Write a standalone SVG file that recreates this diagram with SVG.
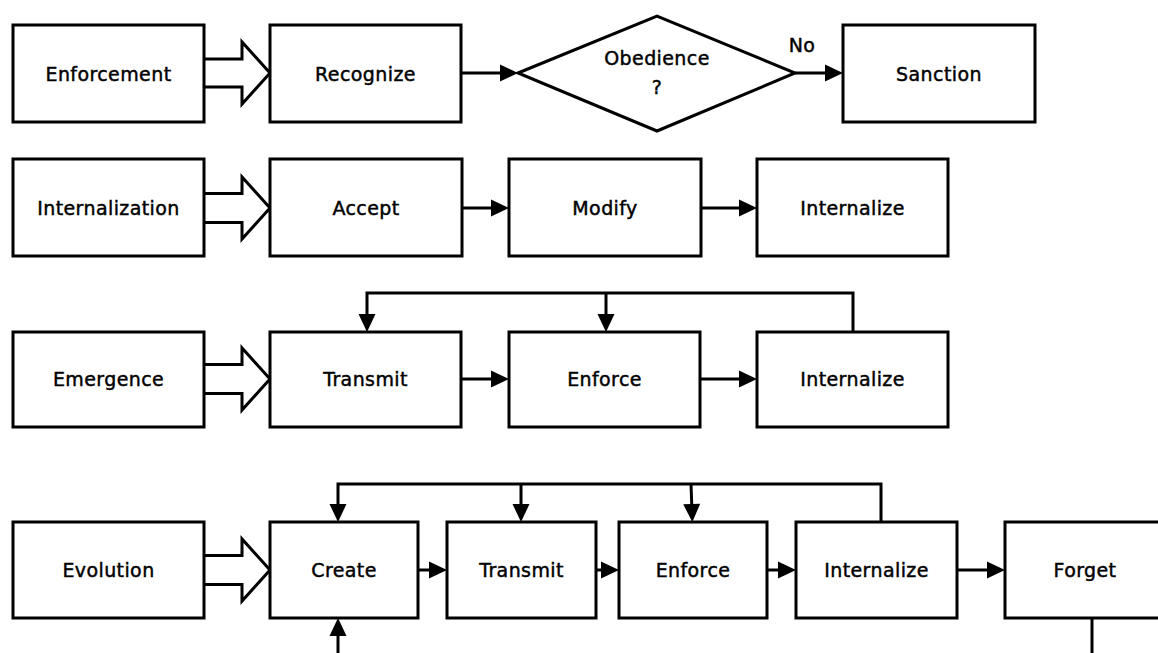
<svg xmlns="http://www.w3.org/2000/svg" width="1158" height="653" viewBox="0 0 1158 653">
  <style>
    .box { fill: #ffffff; stroke: #000000; stroke-width: 3; }
    .lbl { font-family: "DejaVu Sans", "Liberation Sans", sans-serif; font-size: 19px; letter-spacing: 0.4px; fill: #000000; stroke: #000000; stroke-width: 0.45; text-anchor: middle; }
    .wire { fill: none; stroke: #000000; stroke-width: 3; }
    .hollow { fill: #ffffff; stroke: #000000; stroke-width: 3; stroke-linejoin: miter; }
  </style>
  <defs>
    <marker id="head" markerUnits="userSpaceOnUse" markerWidth="18" markerHeight="18" refX="8" refY="8.5" orient="auto" overflow="visible">
      <path d="M0,0 L18,8.5 L0,17 Z" fill="#000000"/>
    </marker>
  </defs>
  <rect width="1158" height="653" fill="#ffffff"/>

  <!-- Connectors -->
  <g id="connectors">
    <!-- wide hollow arrows from row heads -->
    <path class="hollow" d="M204,59 H242 V42 L270,73 L242,104 V87 H204"/>
    <path class="hollow" d="M204,193.5 H242 V177 L270,208 L242,239 V222.5 H204"/>
    <path class="hollow" d="M204,364.5 H242 V348 L270,379 L242,410 V393.5 H204"/>
    <path class="hollow" d="M204,555.5 H242 V539 L270,570 L242,601 V584.5 H204"/>

    <!-- row 1 -->
    <path class="wire" d="M461,73 H508" marker-end="url(#head)"/>
    <path class="wire" d="M795,73 H833" marker-end="url(#head)"/>

    <!-- row 2 -->
    <path class="wire" d="M462,208 H499" marker-end="url(#head)"/>
    <path class="wire" d="M701,208 H747" marker-end="url(#head)"/>

    <!-- row 3 -->
    <path class="wire" d="M461,379 H499" marker-end="url(#head)"/>
    <path class="wire" d="M700,379 H747" marker-end="url(#head)"/>
    <path class="wire" d="M853,332 V293 H367 V322" marker-end="url(#head)"/>
    <path class="wire" d="M606,293 V322" marker-end="url(#head)"/>

    <!-- row 4 -->
    <path class="wire" d="M418,570 H437" marker-end="url(#head)"/>
    <path class="wire" d="M596,570 H609" marker-end="url(#head)"/>
    <path class="wire" d="M767,570 H786" marker-end="url(#head)"/>
    <path class="wire" d="M957,570 H995" marker-end="url(#head)"/>
    <path class="wire" d="M881,522 V484 H338 V512" marker-end="url(#head)"/>
    <path class="wire" d="M521,484 V512" marker-end="url(#head)"/>
    <path class="wire" d="M691,484 L692,512" marker-end="url(#head)"/>
    <path class="wire" d="M338,660 V628" marker-end="url(#head)"/>
    <path class="wire" d="M1092,618 V660"/>
  </g>

  <!-- Row 1: Enforcement -->
  <g id="enforcement"><rect class="box" x="13" y="25" width="191" height="97"/><text class="lbl" x="108.5" y="81">Enforcement</text></g>
  <g id="recognize"><rect class="box" x="270" y="25" width="191" height="97"/><text class="lbl" x="365.5" y="81">Recognize</text></g>
  <g id="obedience"><polygon class="box" points="518,73 657,16 795,73 657,131"/><text class="lbl" x="657" y="65">Obedience</text><text class="lbl" x="657" y="94">?</text></g>
  <text class="lbl" x="802" y="52">No</text>
  <g id="sanction"><rect class="box" x="843" y="25" width="192" height="97"/><text class="lbl" x="939" y="81">Sanction</text></g>

  <!-- Row 2: Internalization -->
  <g id="internalization"><rect class="box" x="13" y="159" width="191" height="97"/><text class="lbl" x="108.5" y="215">Internalization</text></g>
  <g id="accept"><rect class="box" x="270" y="159" width="192" height="97"/><text class="lbl" x="366" y="215">Accept</text></g>
  <g id="modify"><rect class="box" x="509" y="159" width="192" height="97"/><text class="lbl" x="605" y="215">Modify</text></g>
  <g id="internalize-2"><rect class="box" x="757" y="159" width="191" height="97"/><text class="lbl" x="852.5" y="215">Internalize</text></g>

  <!-- Row 3: Emergence -->
  <g id="emergence"><rect class="box" x="13" y="332" width="191" height="95"/><text class="lbl" x="108.5" y="386">Emergence</text></g>
  <g id="transmit-3"><rect class="box" x="270" y="332" width="191" height="95"/><text class="lbl" x="365.5" y="386">Transmit</text></g>
  <g id="enforce-3"><rect class="box" x="509" y="332" width="191" height="95"/><text class="lbl" x="604.5" y="386">Enforce</text></g>
  <g id="internalize-3"><rect class="box" x="757" y="332" width="191" height="95"/><text class="lbl" x="852.5" y="386">Internalize</text></g>

  <!-- Row 4: Evolution -->
  <g id="evolution"><rect class="box" x="13" y="522" width="191" height="96"/><text class="lbl" x="108.5" y="577">Evolution</text></g>
  <g id="create"><rect class="box" x="270" y="522" width="148" height="96"/><text class="lbl" x="344" y="577">Create</text></g>
  <g id="transmit-4"><rect class="box" x="447" y="522" width="149" height="96"/><text class="lbl" x="521.5" y="577">Transmit</text></g>
  <g id="enforce-4"><rect class="box" x="619" y="522" width="148" height="96"/><text class="lbl" x="693" y="577">Enforce</text></g>
  <g id="internalize-4"><rect class="box" x="796" y="522" width="161" height="96"/><text class="lbl" x="876.5" y="577">Internalize</text></g>
  <g id="forget"><rect class="box" x="1005" y="522" width="160" height="96"/><text class="lbl" x="1085" y="577">Forget</text></g>
</svg>
